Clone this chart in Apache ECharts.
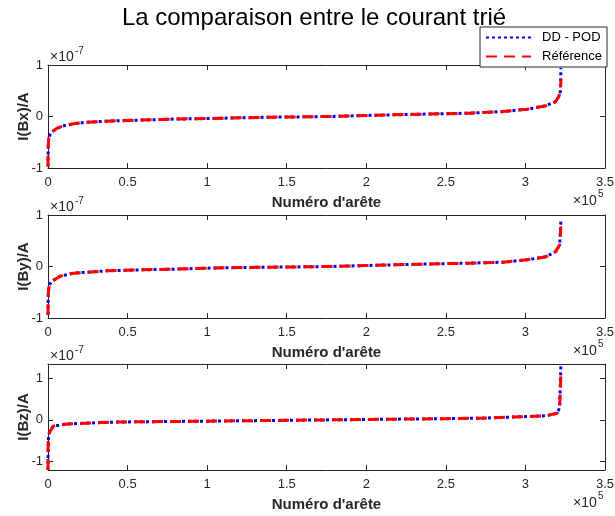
<!DOCTYPE html>
<html><head><meta charset="utf-8">
<script src="https://cdn.jsdelivr.net/npm/echarts@6/dist/echarts.min.js"></script>
<style>html,body{margin:0;padding:0;background:#fff}#c{width:615px;height:516px}</style>
</head><body><div id="c"></div>
<script>
// ---- data (x in units of 1e5, y in units of 1e-7) ----
const titleText = 'La comparaison entre le courant trié';
const seriesNames = ['DD - POD', 'Référence'];
const yNames = ['I(Bx)/A', 'I(By)/A', 'I(Bz)/A'];
const xName = "Numéro d'arête";
const xTicks = [0, 0.5, 1, 1.5, 2, 2.5, 3, 3.5];
const yTicks = [-1, 0, 1];

// Panel 1: Bx
const bxX   = [0, 0.0005, 0.002, 0.005, 0.012, 0.025, 0.054, 0.1, 0.16, 0.25, 0.37, 0.58, 0.79, 1.0, 1.2, 1.41, 1.62, 1.77, 2.0, 2.34, 2.65, 2.86, 3.01, 3.13, 3.19, 3.21, 3.22, 3.223];
const bxRef = [-0.97, -0.75, -0.55, -0.42, -0.36, -0.3, -0.23, -0.18, -0.14, -0.11, -0.09, -0.07, -0.05, -0.04, -0.026, -0.013, -0.006, 0, 0.02, 0.045, 0.065, 0.097, 0.14, 0.21, 0.29, 0.39, 0.49, 0.73];
const bxDD  = [-0.97, -0.75, -0.55, -0.42, -0.36, -0.3, -0.23, -0.18, -0.14, -0.11, -0.09, -0.07, -0.05, -0.04, -0.026, -0.013, -0.006, 0, 0.02, 0.045, 0.065, 0.097, 0.14, 0.21, 0.29, 0.39, 0.49, 0.94];

// Panel 2: By
const byX   = [0, 0.0005, 0.002, 0.005, 0.012, 0.023, 0.075, 0.16, 0.37, 0.58, 0.79, 1.0, 1.2, 1.41, 1.77, 2.0, 2.34, 2.65, 2.86, 3.01, 3.13, 3.19, 3.215, 3.223];
const byRef = [-0.94, -0.7, -0.52, -0.42, -0.34, -0.29, -0.19, -0.13, -0.084, -0.065, -0.052, -0.032, -0.02, -0.013, 0, 0.02, 0.045, 0.065, 0.084, 0.13, 0.19, 0.29, 0.42, 0.78];
const byDD  = [-0.94, -0.7, -0.52, -0.42, -0.34, -0.29, -0.19, -0.13, -0.084, -0.065, -0.052, -0.032, -0.02, -0.013, 0, 0.02, 0.045, 0.065, 0.084, 0.13, 0.19, 0.29, 0.42, 0.9];

// Panel 3: Bz
const bzX   = [0, 0.0005, 0.002, 0.005, 0.012, 0.033, 0.12, 0.33, 0.45, 1.0, 1.5, 2.0, 2.5, 2.71, 3.0, 3.13, 3.2, 3.215, 3.223];
const bzRef = [-1.21, -0.8, -0.5, -0.35, -0.28, -0.15, -0.1, -0.065, -0.05, -0.03, -0.01, 0.01, 0.03, 0.04, 0.08, 0.1, 0.16, 0.3, 1.09];
const bzDD  = [-1.21, -0.8, -0.5, -0.35, -0.28, -0.15, -0.1, -0.065, -0.05, -0.03, -0.01, 0.01, 0.03, 0.04, 0.08, 0.1, 0.16, 0.3, 1.35];

const yRanges = [[-1, 1], [-1, 1], [-1.21, 1.35]];

// ---- layout ----
const FONT = "'Liberation Sans', Arial, Helvetica, sans-serif";
const AX = '#262626';
const gridTops = [65, 215, 364];
const gridHeights = [103, 103, 106];
const panels = [[bxX, bxDD, bxRef], [byX, byDD, byRef], [bzX, bzDD, bzRef]];

const pairs = (xs, ys) => xs.map((x, i) => [x, ys[i]]);

const grid = [], xAxis = [], yAxis = [], series = [], graphic = [];
panels.forEach((p, i) => {
  grid.push({left: 48, right: 10, top: gridTops[i], height: gridHeights[i], show: false,
    containLabel: false, outerBoundsMode: 'none'});
  const xBase = {gridIndex: i, type: 'value', min: xTicks[0], max: xTicks[xTicks.length - 1], interval: 0.5,
    axisLine: {show: true, onZero: false, lineStyle: {color: AX, width: 1}},
    axisTick: {show: true, inside: true, length: 5, lineStyle: {color: AX}},
    splitLine: {show: false}};
  xAxis.push(Object.assign({}, xBase, {position: 'bottom',
    axisLabel: {show: true, color: AX, fontSize: 13, fontFamily: FONT, margin: 8},
    name: xName, nameLocation: 'middle', nameGap: 27, nameMoveOverlap: false,
    nameTextStyle: {fontWeight: 'bold', fontSize: 15, color: AX, fontFamily: FONT}}));
  xAxis.push(Object.assign({}, xBase, {position: 'top', axisLabel: {show: false}}));
  const [ymin, ymax] = yRanges[i];
  const yBase = {gridIndex: i, type: 'value', min: ymin, max: ymax,
    axisLine: {show: true, onZero: false, lineStyle: {color: AX, width: 1}},
    axisTick: {show: true, inside: true, length: 5, lineStyle: {color: AX}, customValues: yTicks},
    splitLine: {show: false}};
  yAxis.push(Object.assign({}, yBase, {position: 'left',
    axisLabel: {show: true, color: AX, fontSize: 13, fontFamily: FONT, margin: 5, customValues: yTicks},
    name: yNames[i], nameLocation: 'middle', nameGap: 17, nameRotate: 90, nameMoveOverlap: false,
    nameTextStyle: {fontWeight: 'bold', fontSize: 15, color: AX, fontFamily: FONT}}));
  yAxis.push(Object.assign({}, yBase, {position: 'right', axisLabel: {show: false}}));
  series.push({name: seriesNames[0], type: 'line', xAxisIndex: 2 * i, yAxisIndex: 2 * i,
    data: pairs(p[0], p[1]), showSymbol: false, symbol: 'none', z: 2, animation: false,
    lineStyle: {color: '#0000ff', width: 3, type: [3, 3], cap: 'butt'}, itemStyle: {color: '#0000ff'}});
  series.push({name: seriesNames[1], type: 'line', xAxisIndex: 2 * i, yAxisIndex: 2 * i,
    data: pairs(p[0], p[2]), showSymbol: false, symbol: 'none', z: 3, animation: false,
    lineStyle: {color: '#ff0000', width: 3, type: [11, 7], cap: 'butt'}, itemStyle: {color: '#ff0000'}});

  // exponent labels
  const top = gridTops[i], bot = gridTops[i] + gridHeights[i];
  graphic.push({type: 'text', x: 50, y: top - 8, style: {text: '×10', fill: AX, font: '14px ' + FONT, verticalAlign: 'middle'}});
  graphic.push({type: 'text', x: 75, y: top - 14, style: {text: '-7', fill: AX, font: '10px ' + FONT, verticalAlign: 'middle'}});
  graphic.push({type: 'text', x: 573, y: bot + 33, style: {text: '×10', fill: AX, font: '14px ' + FONT, verticalAlign: 'middle'}});
  graphic.push({type: 'text', x: 598, y: bot + 26, style: {text: '5', fill: AX, font: '10px ' + FONT, verticalAlign: 'middle'}});
});

graphic.push({type: 'text', x: 314, y: 18, z: 1, style: {text: titleText, fill: '#000', font: '24px ' + FONT, align: 'center', verticalAlign: 'middle'}});

const chart = echarts.init(document.getElementById('c'), null, {renderer: 'canvas'});
chart.setOption({
  animation: false,
  backgroundColor: '#fff',
  grid, xAxis, yAxis, series, graphic,
  legend: {data: seriesNames, orient: 'vertical', right: 8, top: 27, z: 10,
    itemWidth: 45, itemHeight: 10, itemGap: 6, padding: [4, 5, 4, 5],
    itemStyle: {opacity: 0},
    borderColor: AX, borderWidth: 1, backgroundColor: '#fff',
    textStyle: {fontSize: 13, color: '#000', fontFamily: FONT, padding: [0, 0, 0, 6]}}
});
</script></body></html>
